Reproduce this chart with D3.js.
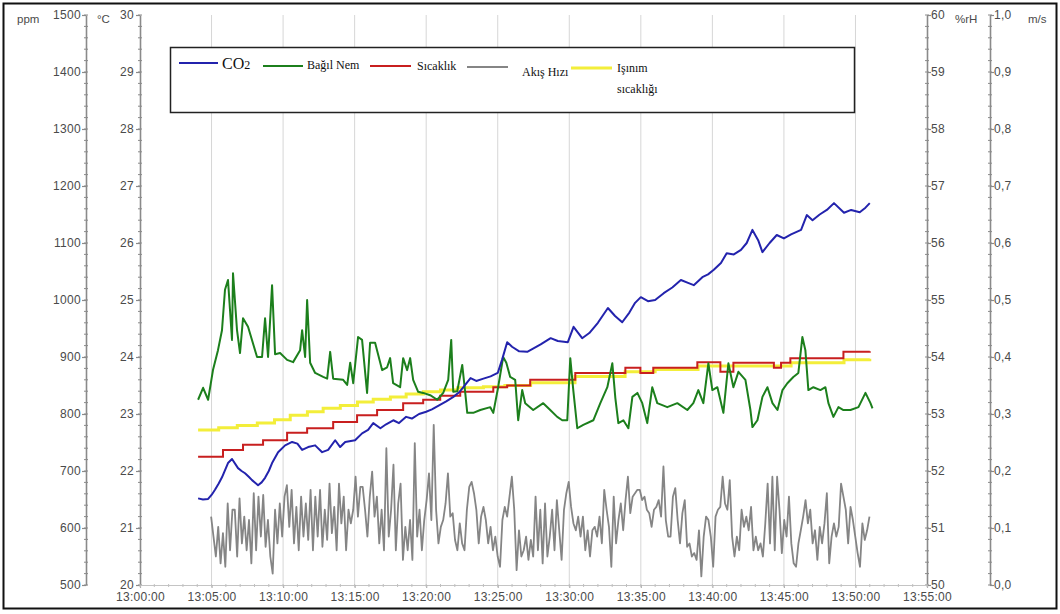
<!DOCTYPE html>
<html>
<head>
<meta charset="utf-8">
<script src="https://cdn.jsdelivr.net/npm/d3@7"></script>
<style>
  html, body { margin: 0; padding: 0; background: #fff; }
  svg { display: block; }
  .tick text { font-family: "Liberation Sans", Arial, sans-serif; }
</style>
</head>
<body>
<svg id="chart" width="1060" height="614"></svg>
<script>
// ---------------- DATA (minutes after 13:00:00, value) ----------------
const co2Series = [[4.06,652],[4.4,650],[4.76,651],[5.0,658],[5.24,667],[5.5,678],[5.73,689],[6.15,714],[6.43,721],[6.85,705],[7.1,700],[7.34,696],[7.6,690],[7.83,684],[8.25,675],[8.5,680],[8.74,688],[9.0,700],[9.23,714],[9.65,733],[10.14,745],[10.63,751],[11.0,748],[11.33,737],[11.75,742],[12.24,745],[12.73,733],[13.15,737],[13.64,754],[13.99,742],[14.34,751],[15.03,754],[15.52,766],[15.94,772],[16.3,784],[16.8,775],[17.2,782],[17.7,789],[18.1,784],[18.6,795],[19.0,792],[19.5,800],[20.0,804],[20.4,808],[20.9,815],[21.4,822],[21.9,830],[22.3,838],[22.6,847],[23.1,863],[23.5,858],[24.0,862],[24.5,866],[25.0,872],[25.3,895],[25.66,926],[26.0,918],[26.5,910],[27.06,909],[27.5,915],[28.0,922],[28.7,933],[29.2,928],[29.9,926],[30.3,953],[30.9,933],[31.4,942],[32.0,960],[32.7,986],[33.2,972],[33.7,961],[34.2,978],[34.6,995],[35.0,1005],[35.5,998],[36.0,1000],[36.6,1012],[37.2,1022],[37.8,1035],[38.3,1030],[38.7,1026],[39.3,1040],[39.7,1045],[40.1,1053],[40.6,1065],[41.0,1082],[41.5,1080],[42.0,1088],[42.4,1100],[42.8,1123],[43.2,1105],[43.5,1084],[44.0,1100],[44.5,1114],[45.0,1108],[45.5,1115],[46.2,1123],[46.6,1149],[47.0,1140],[47.5,1150],[48.0,1158],[48.5,1170],[49.2,1153],[49.7,1158],[50.3,1154],[50.7,1162],[51.0,1170]];

const humiditySeries = [[4.06,53.25],[4.41,53.46],[4.76,53.25],[5.1,53.77],[5.45,54.12],[5.73,54.47],[5.94,55.18],[6.15,55.35],[6.43,54.3],[6.5,55.47],[6.78,54.47],[6.99,54.07],[7.2,54.68],[7.55,54.53],[8.18,54.0],[8.53,54.0],[8.74,54.68],[8.95,54.0],[9.23,55.26],[9.44,54.05],[9.79,54.07],[10.28,53.95],[10.7,53.91],[11.19,54.12],[11.33,54.47],[11.54,54.0],[11.68,55.0],[11.89,53.9],[12.24,53.72],[12.8,53.65],[13.08,53.62],[13.29,54.09],[13.5,53.62],[14.2,53.6],[14.48,53.51],[14.69,53.9],[14.9,53.54],[15.24,54.35],[15.52,54.3],[15.87,53.37],[16.08,54.25],[16.43,54.25],[16.92,53.77],[17.27,53.82],[17.48,53.98],[17.69,53.54],[18.18,53.47],[18.39,53.98],[18.67,53.77],[18.88,53.98],[19.09,53.6],[19.44,53.39],[19.79,53.37],[20.28,53.33],[20.77,53.25],[21.19,53.37],[21.54,53.6],[21.75,54.3],[21.89,53.39],[22.17,53.4],[22.52,53.86],[22.73,53.37],[22.87,53.02],[23.29,53.02],[23.78,53.07],[24.48,53.12],[24.69,53.02],[25.03,53.47],[25.38,54.0],[25.6,53.9],[25.87,53.65],[26.22,53.6],[26.43,52.89],[26.71,53.42],[26.92,53.19],[27.48,53.07],[28.18,53.19],[28.67,53.07],[29.16,52.95],[29.51,52.89],[29.86,52.89],[30.07,53.98],[30.28,53.42],[30.56,52.75],[30.98,52.81],[31.68,52.89],[32.17,53.19],[32.66,53.47],[33.01,53.89],[33.22,53.28],[33.43,52.84],[33.78,52.89],[34.13,52.75],[34.41,53.3],[34.76,53.37],[35.1,53.19],[35.45,52.84],[35.8,53.47],[36.15,53.19],[36.85,53.12],[37.55,53.19],[38.25,53.07],[38.67,53.19],[39.02,53.42],[39.37,53.19],[39.72,53.89],[40.0,53.42],[40.35,53.47],[40.77,53.02],[41.12,53.89],[41.47,53.47],[41.82,53.74],[42.31,53.6],[42.66,53.07],[42.8,52.77],[43.15,52.89],[43.5,53.3],[43.85,53.47],[44.2,53.19],[44.55,53.07],[44.9,53.42],[45.24,53.54],[45.66,53.65],[46.01,53.72],[46.29,54.35],[46.5,54.12],[46.71,53.42],[47.06,53.47],[47.55,53.42],[47.9,53.47],[48.11,53.19],[48.46,52.95],[48.81,53.12],[49.16,53.07],[49.65,53.07],[50.21,53.12],[50.7,53.37],[51.05,53.19],[51.19,53.1]];

const temperatureSeries = [[4.06,22.25],[5.8,22.37],[7.2,22.46],[8.6,22.54],[10.28,22.67],[11.68,22.75],[13.5,22.86],[15.17,22.98],[16.57,23.07],[18.39,23.19],[19.79,23.25],[20.98,23.32],[22.38,23.39],[24.69,23.47],[25.66,23.5],[27.27,23.6],[30.42,23.72],[33.92,23.81],[34.97,23.72],[35.87,23.81],[38.95,23.91],[40.56,23.74],[41.47,23.9],[44.3,23.81],[44.8,23.9],[45.45,23.98],[49.16,24.09],[51.0,24.1]];

const radiantSeries = [[4.06,22.72],[5.5,22.76],[6.8,22.8],[8.2,22.84],[9.4,22.9],[10.5,22.98],[11.7,23.04],[12.8,23.1],[14.0,23.15],[15.2,23.21],[16.3,23.26],[17.5,23.3],[18.6,23.35],[19.8,23.39],[21.0,23.42],[22.2,23.46],[24.0,23.48],[25.5,23.5],[27.3,23.55],[30.4,23.66],[33.9,23.74],[36.0,23.78],[39.0,23.84],[41.5,23.84],[45.5,23.9],[49.2,23.95],[51.0,23.97]];

// air velocity (m/s), samples read left to right, 13:04:58 .. 13:50:59
const velocityStart = 4.97, velocityEnd = 50.98;
const velocityValues = [0.120,0.085,0.050,0.102,0.038,0.091,0.032,0.143,0.061,0.132,0.132,0.050,0.152,0.073,0.120,0.061,0.114,0.038,0.161,0.061,0.155,0.085,0.158,0.067,0.114,0.050,0.020,0.132,0.073,0.143,0.085,0.155,0.175,0.102,0.167,0.073,0.137,0.061,0.155,0.085,0.143,0.079,0.167,0.061,0.155,0.085,0.167,0.067,0.132,0.079,0.178,0.091,0.137,0.061,0.178,0.108,0.155,0.061,0.132,0.108,0.132,0.190,0.120,0.172,
0.172,0.132,0.085,0.155,0.199,0.120,0.155,0.073,0.132,0.061,0.240,0.085,0.132,0.211,0.061,0.143,0.178,0.044,0.102,0.061,0.114,0.044,0.249,0.085,0.132,0.061,0.114,0.149,0.196,0.114,0.281,0.132,0.073,0.102,0.114,0.143,0.196,0.120,0.126,0.079,0.061,0.108,0.073,0.061,0.132,0.172,0.181,0.161,0.132,0.073,0.120,0.137,0.114,0.073,0.102,0.061,0.085,0.050,0.032,0.114,0.137,0.120,0.155,0.190,0.132,0.026,0.096,0.050,0.061,0.085,0.044,0.079,0.050,
0.155,0.061,0.132,0.038,0.143,0.050,0.085,0.132,0.061,0.149,0.096,0.044,0.132,0.161,0.181,0.137,0.108,0.096,0.120,0.085,0.120,0.061,0.096,0.050,0.096,0.102,0.085,0.120,0.073,0.167,0.132,0.102,0.032,0.155,0.073,0.114,0.143,0.096,0.149,0.190,0.126,0.155,0.161,0.167,0.167,0.149,0.155,0.132,0.126,0.102,0.132,0.137,0.149,0.120,0.208,0.114,0.085,0.085,0.155,0.170,0.114,0.073,0.126,0.149,0.067,0.073,0.050,0.056,0.044,0.096,0.015,0.085,0.120,
0.114,0.085,0.032,0.120,0.132,0.137,0.190,0.143,0.132,0.184,0.085,0.050,0.085,0.061,0.132,0.102,0.120,0.096,0.137,0.061,0.085,0.061,0.073,0.050,0.108,0.178,0.073,0.190,0.061,0.190,0.132,0.056,0.114,0.085,0.155,0.073,0.038,0.032,0.073,0.096,0.120,0.149,0.108,0.132,0.073,0.096,0.044,0.102,0.073,0.108,0.161,0.038,0.085,0.108,0.085,0.102,0.178,0.155,0.132,0.073,0.137,0.114,0.085,0.056,0.032,0.108,0.079,0.096,0.120];

// axis tick labels
const ppmTicks = [500,600,700,800,900,1000,1100,1200,1300,1400,1500];
const celsiusTicks = [20,21,22,23,24,25,26,27,28,29,30];
const rhTicks = [50,51,52,53,54,55,56,57,58,59,60];
const velocityTicks = [0,0.1,0.2,0.3,0.4,0.5,0.6,0.7,0.8,0.9,1.0];
const timeTickMinutes = [0,5,10,15,20,25,30,35,40,45,50,55];
const gridMinutes = [5,10,15,20,25,30,35,40,45,50];

const legendItems = [
  {key: "co2", label: "CO2", color: "#2323ad"},
  {key: "rh", label: "Bağıl Nem", color: "#1c7f1c"},
  {key: "t", label: "Sıcaklık", color: "#c81f1f"},
  {key: "v", label: "Akış Hızı", color: "#858585"},
  {key: "r", label: "Işınım sıcaklığı", color: "#f3ee3a"}
];

// ---------------- DRAWING ----------------
const svg = d3.select("#chart");
const base = new Date(2020, 0, 1, 13, 0, 0);
const tm = m => new Date(base.getTime() + m * 60000);

const plotTop = 15, plotBottom = 585;
const x = d3.scaleTime().domain([tm(0), tm(55)]).range([140, 927]);
const yPpm = d3.scaleLinear().domain([500, 1500]).range([plotBottom, plotTop]);
const yC = d3.scaleLinear().domain([20, 30]).range([plotBottom, plotTop]);
const yRh = d3.scaleLinear().domain([50, 60]).range([plotBottom, plotTop]);
const yV = d3.scaleLinear().domain([0, 1]).range([plotBottom, plotTop]);

svg.append("rect").attr("x", 0).attr("y", 0).attr("width", 1060).attr("height", 614).attr("fill", "#fff");

// grid lines
svg.append("g").selectAll("line").data(gridMinutes).join("line")
  .attr("x1", d => x(tm(d))).attr("x2", d => x(tm(d)))
  .attr("y1", plotTop).attr("y2", plotBottom)
  .attr("stroke", "#d6d6d6").attr("stroke-width", 1);

const axisColor = "#8a8a8a", labelColor = "#4a4a4a";
function styleAxis(g) {
  g.select(".domain").attr("stroke", axisColor).attr("stroke-width", 1.6);
  g.selectAll(".tick line").attr("stroke", axisColor).attr("stroke-width", 1.2);
  g.selectAll(".tick text").attr("fill", labelColor).attr("font-size", 12).attr("letter-spacing", "0.3px");
}
function minor(g, scale, values, xPos, len) {
  g.append("g").selectAll("line").data(values).join("line")
    .attr("x1", xPos - len).attr("x2", xPos + len)
    .attr("y1", d => scale(d)).attr("y2", d => scale(d))
    .attr("stroke", axisColor).attr("stroke-width", 1);
}

// ppm axis
const gP = svg.append("g").attr("transform", "translate(86,0)")
  .call(d3.axisLeft(yPpm).tickValues(ppmTicks).tickSize(4).tickSizeOuter(0).tickPadding(1).tickFormat(d3.format("d")));
styleAxis(gP);
minor(svg, yPpm, yPpm.ticks(50), 86, 2);

// °C axis
const gC = svg.append("g").attr("transform", "translate(140,0)")
  .call(d3.axisLeft(yC).tickValues(celsiusTicks).tickSize(4).tickSizeOuter(0).tickPadding(2).tickFormat(d3.format("d")));
styleAxis(gC);
minor(svg, yC, yC.ticks(50), 140, 2);

// %rH axis
const gR = svg.append("g").attr("transform", "translate(927,0)")
  .call(d3.axisRight(yRh).tickValues(rhTicks).tickSize(4).tickSizeOuter(0).tickPadding(0).tickFormat(d3.format("d")));
styleAxis(gR);
minor(svg, yRh, yRh.ticks(50), 927, 2);

// m/s axis
const commaFmt = d => d3.format(".1f")(d).replace(".", ",");
const gV = svg.append("g").attr("transform", "translate(990,0)")
  .call(d3.axisRight(yV).tickValues(velocityTicks).tickSize(4).tickSizeOuter(0).tickPadding(0).tickFormat(commaFmt));
styleAxis(gV);
minor(svg, yV, yV.ticks(50), 990, 2);

// time axis
const gX = svg.append("g").attr("transform", `translate(0,${plotBottom})`)
  .call(d3.axisBottom(x).tickValues(timeTickMinutes.map(tm)).tickSize(3).tickSizeOuter(0).tickPadding(4)
    .tickFormat(d3.timeFormat("%H:%M:%S")));
styleAxis(gX);
gX.select(".domain").attr("stroke", "#c4c4c4").attr("stroke-width", 1.2);
gX.selectAll(".tick line").attr("stroke", "#b0b0b0");
svg.append("g").selectAll("line").data(x.ticks(d3.timeMinute.every(1))).join("line")
  .attr("x1", d => x(d)).attr("x2", d => x(d)).attr("y1", plotBottom - 1).attr("y2", plotBottom + 2)
  .attr("stroke", "#c0c0c0").attr("stroke-width", 1);

// unit labels
const unitFont = "Liberation Sans, Arial, sans-serif";
[["ppm", 17], ["°C", 97], ["%rH", 955], ["m/s", 1028]].forEach(([t, px]) => {
  svg.append("text").attr("x", px).attr("y", 23).text(t)
    .attr("font-family", unitFont).attr("font-size", 11.5).attr("fill", labelColor);
});

// series
const line = (yScale, curve) => d3.line().x(d => x(tm(d[0]))).y(d => yScale(d[1])).curve(curve || d3.curveLinear);
const vStep = (velocityEnd - velocityStart) / (velocityValues.length - 1);
const velocitySeries = velocityValues.map((v, i) => [velocityStart + i * vStep, v]);

svg.append("path").datum(velocitySeries).attr("d", line(yV))
  .attr("fill", "none").attr("stroke", legendItems[3].color).attr("stroke-width", 1.8).attr("stroke-linejoin", "round");
svg.append("path").datum(radiantSeries).attr("d", line(yC, d3.curveStepAfter))
  .attr("fill", "none").attr("stroke", legendItems[4].color).attr("stroke-width", 3);
svg.append("path").datum(temperatureSeries).attr("d", line(yC, d3.curveStepAfter))
  .attr("fill", "none").attr("stroke", legendItems[2].color).attr("stroke-width", 2);
svg.append("path").datum(humiditySeries).attr("d", line(yRh))
  .attr("fill", "none").attr("stroke", legendItems[1].color).attr("stroke-width", 2).attr("stroke-linejoin", "round");
svg.append("path").datum(co2Series).attr("d", line(yPpm))
  .attr("fill", "none").attr("stroke", legendItems[0].color).attr("stroke-width", 2).attr("stroke-linejoin", "round");

// legend
const lg = svg.append("g");
lg.append("rect").attr("x", 170.5).attr("y", 47.5).attr("width", 684).attr("height", 65)
  .attr("fill", "#fff").attr("stroke", "#222").attr("stroke-width", 1.5);
const serif = "Liberation Serif, 'Times New Roman', serif";
const legendLayout = [
  {x1: 179, x2: 218, ly: 63, tx: 222, ty: 69},
  {x1: 263, x2: 303, ly: 66, tx: 307, ty: 69},
  {x1: 370, x2: 411, ly: 66, tx: 417, ty: 70},
  {x1: 467, x2: 508, ly: 67, tx: 522, ty: 76},
  {x1: 571, x2: 612, ly: 68, tx: 617, ty: 72}
];
legendItems.forEach((it, i) => {
  const L = legendLayout[i];
  lg.append("line").attr("x1", L.x1).attr("x2", L.x2).attr("y1", L.ly).attr("y2", L.ly)
    .attr("stroke", it.color).attr("stroke-width", it.key === "r" ? 3 : 2);
  const t = lg.append("text").attr("x", L.tx).attr("y", L.ty).attr("font-family", serif).attr("fill", "#111");
  if (it.key === "co2") {
    t.attr("font-size", 16);
    t.append("tspan").text("CO");
    t.append("tspan").attr("font-size", 12).text("2");
  } else if (it.key === "r") {
    const parts = it.label.split(" ");
    t.attr("font-size", 12);
    t.append("tspan").attr("x", L.tx).text(parts[0]);
    t.append("tspan").attr("x", L.tx).attr("dy", 21).text(parts[1]);
  } else {
    t.attr("font-size", 12).text(it.label);
  }
});

// outer frame
svg.append("rect").attr("x", 3.5).attr("y", 3.5).attr("width", 1053).attr("height", 605)
  .attr("fill", "none").attr("stroke", "#111").attr("stroke-width", 2);
</script>
</body>
</html>
